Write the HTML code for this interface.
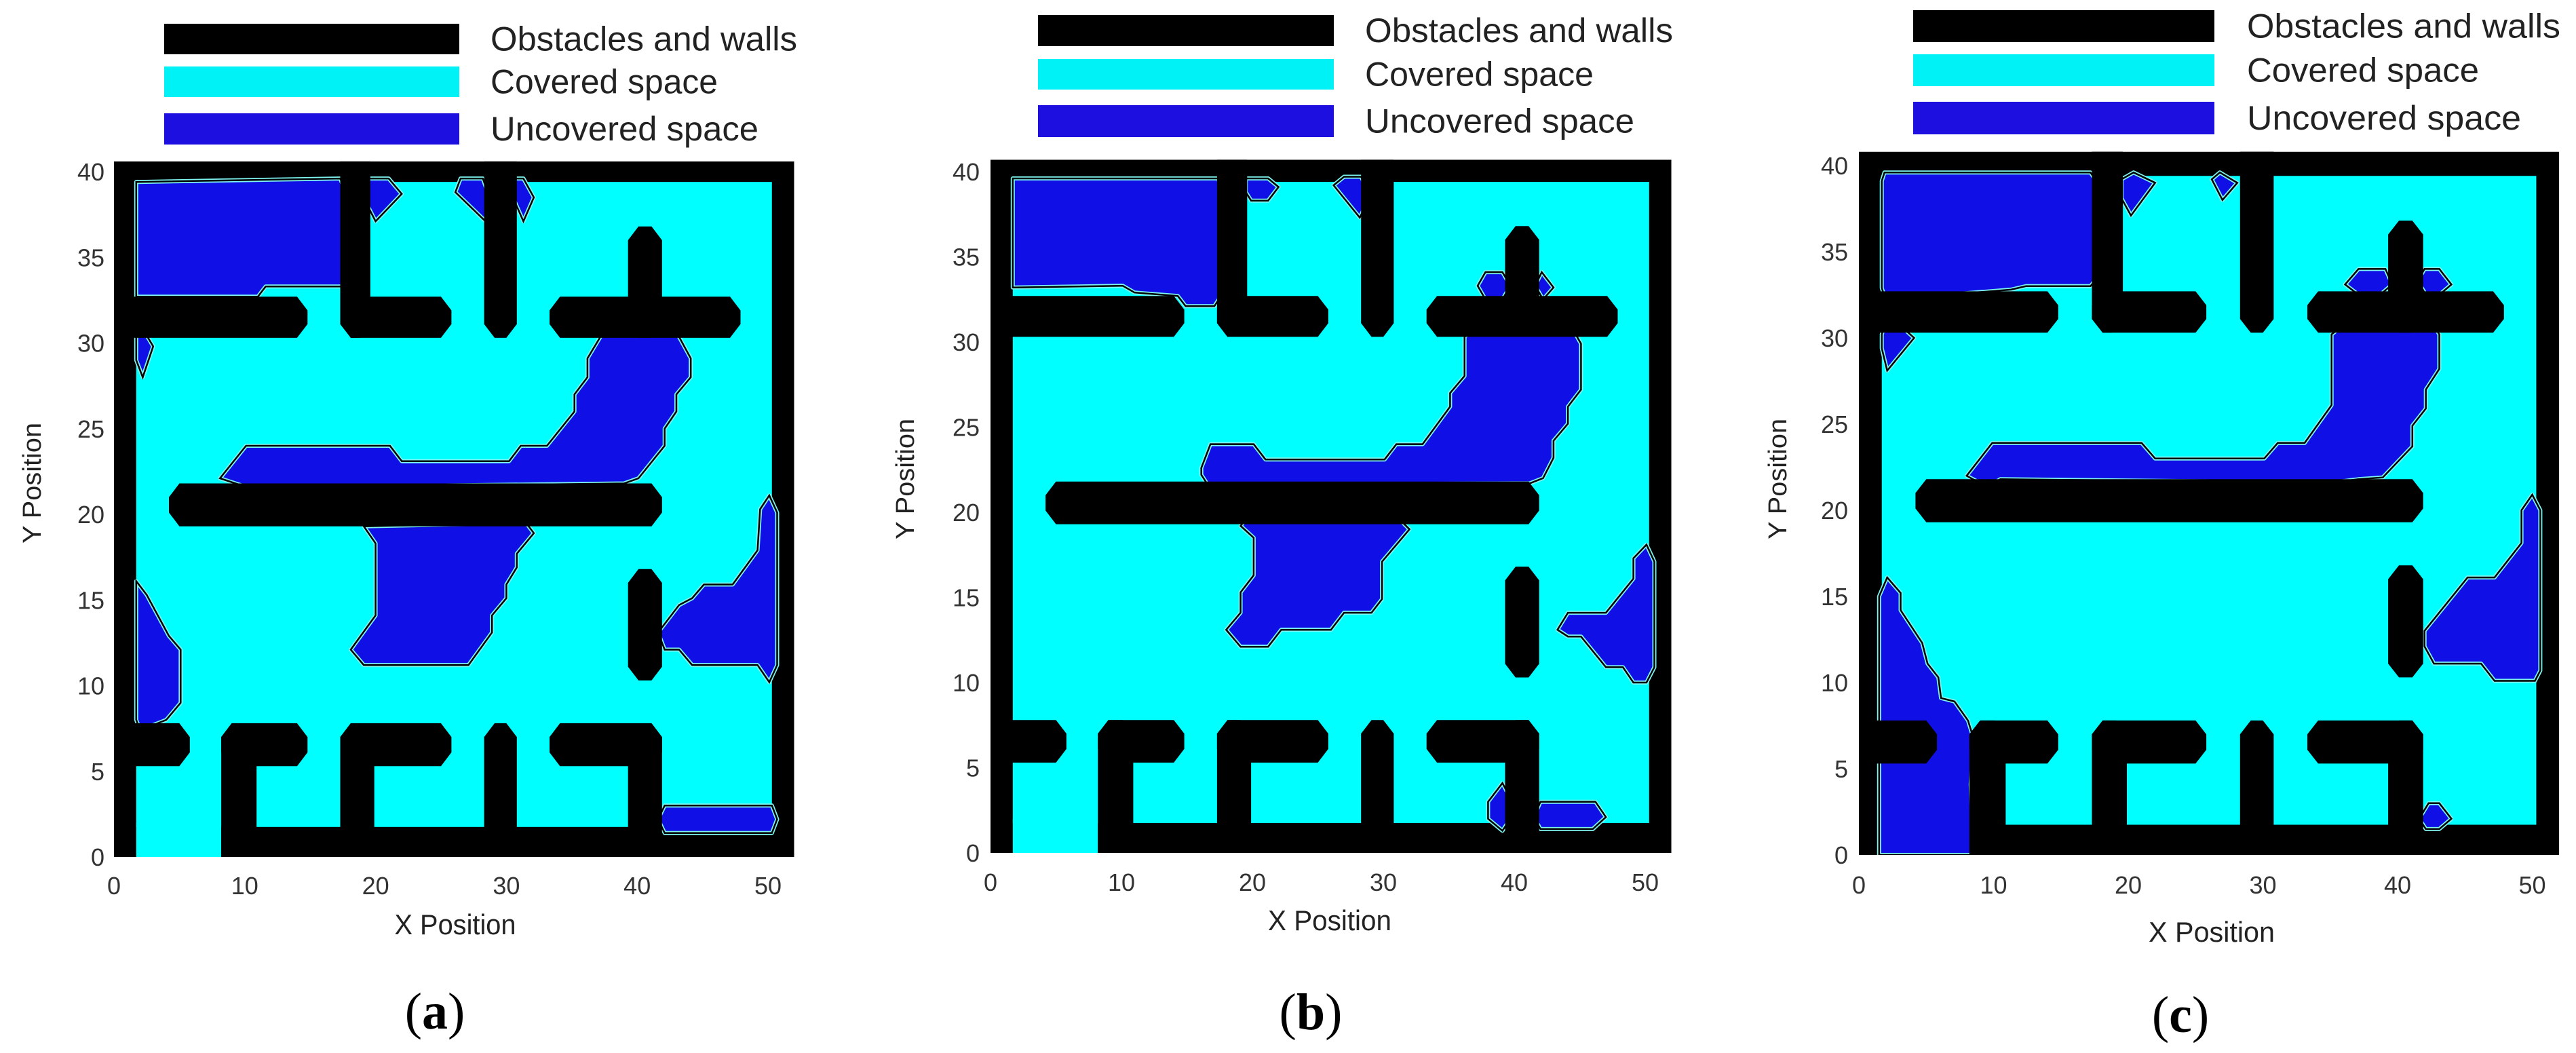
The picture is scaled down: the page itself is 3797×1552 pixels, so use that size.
<!DOCTYPE html>
<html><head><meta charset="utf-8"><style>
html,body{margin:0;padding:0;background:#fff;}
svg{display:block;}
text{font-family:"Liberation Sans",sans-serif;}
</style></head><body>
<svg id="fig" xmlns="http://www.w3.org/2000/svg" width="3797" height="1552" viewBox="0 0 3797 1552"></svg>
<script>
// ---- data (map coordinates in units) ----
const xTicks = [0,10,20,30,40,50];
const yTicks = [0,5,10,15,20,25,30,35,40];
const legendLabels = ["Obstacles and walls","Covered space","Uncovered space"];
const obstacleBars = [
 [0,30.3,14.8,32.7],[17.3,30.3,19.6,42],[17.3,30.3,25.8,32.7],[28.3,30.3,30.8,42],
 [33.3,30.3,47.9,32.7],[39.3,30.3,41.9,36.8],[4.2,19.3,41.9,21.8],[39.3,10.3,41.9,16.8],
 [0,5.3,5.8,7.8],[8.2,-1,10.9,7.8],[8.2,5.3,14.8,7.8],[17.3,-1,19.9,7.8],[17.3,5.3,25.8,7.8],
 [28.3,-1,30.8,7.8],[33.3,5.3,41.9,7.8],[39.3,-1,41.9,7.8]
];
const uncoveredA = [
 [[1.7,39.4],[17.3,39.6],[17.6,39],[17.6,33.3],[11.6,33.3],[11,32.7],[1.7,32.7]],
 [[19.4,39.6],[21,39.6],[22,38.7],[20,37.1],[19.4,38]],
 [[26.5,39.6],[28.2,39.6],[28.7,38.5],[28.4,37.1],[26.1,38.8]],
 [[30.5,39.6],[31.3,39.6],[32.1,38.5],[31.3,37.1],[30.5,38.5]],
 [[1.7,30.5],[2.3,30.7],[3,29.8],[2.2,28],[1.7,29]],
 [[8.1,22.1],[10.1,24],[21.1,24],[22,23.1],[30.2,23.1],[31.1,24],[33.1,24],[35.2,26],[35.2,27],[36.2,28],[36.2,29.1],[37.3,30.5],[43.1,30.5],[44.1,29.1],[44.1,28],[43,27],[43,26],[42.1,25],[42.1,24],[40.1,22.1],[39,21.8],[16,21.6],[10.5,21.5]],
 [[19.1,19.3],[31.5,19.5],[32.1,18.9],[30.8,17.7],[30.8,16.9],[30,15.9],[30,15.1],[28.9,14.1],[28.9,13.1],[27.1,11.2],[19.1,11.2],[18.1,12.1],[20,14.1],[20,18.3]],
 [[1.7,16.1],[2.5,15.3],[4.2,12.9],[5.1,12.1],[5.1,9],[4,8],[2,7.4],[1.7,8]],
 [[41.6,13.1],[43.2,14.7],[44.2,15.1],[45.1,15.9],[47.3,15.9],[49.2,17.9],[49.4,20.3],[50.1,21.1],[50.7,20.1],[50.7,11.2],[50.1,10.2],[49.2,11.2],[44.2,11.2],[43.2,12.1],[42.1,12.1]],
 [[42.1,3],[50.3,3],[50.7,2.2],[50.3,1.4],[42.1,1.4],[41.6,2.2]]
];
const uncoveredB = [
 [[1.7,39.6],[17.4,39.6],[17.6,39],[17.6,32.7],[17.1,32.1],[14.9,32.1],[14.3,32.7],[11,32.9],[10.1,33.3],[1.7,33.2]],
 [[19.5,39.6],[21.2,39.6],[22,39.1],[21.2,38.3],[19.9,38.3],[19.5,38.8]],
 [[26.2,39.2],[27,39.7],[28.3,39.7],[28.7,39.1],[28.7,38.1],[28.2,37.3]],
 [[37.2,33.3],[37.8,34.1],[39.1,34.1],[39.7,33.3],[39.1,32.5],[37.8,32.5]],
 [[41.6,33.3],[42.1,34.1],[43,33.2],[42.2,32.5]],
 [[16.1,22.6],[16.8,24],[20.1,24],[21,23.1],[30.1,23.1],[31,24],[33,24],[35.1,26.2],[35.1,27],[36.2,28],[36.2,30.3],[36.8,30.7],[44.5,30.7],[45.1,29.9],[45.1,27.2],[44.1,26.2],[44.1,25.2],[43,24.2],[43,23.2],[42.2,22],[41.2,21.7],[16.6,21.6],[16.1,22.2]],
 [[19.1,19.2],[19.5,19.6],[31.2,19.6],[32,19],[29.9,17.1],[29.9,14.9],[29.1,14.1],[27,14.1],[26,13.1],[22.2,13.1],[21.2,12.1],[19.1,12.1],[18,13.1],[19.1,14.1],[19.1,15.3],[20.1,16.3],[20.1,18.5]],
 [[43.3,13.1],[44.1,14.1],[47,14.1],[49.1,16.1],[49.1,17.3],[50.1,18.1],[50.7,17.1],[50.7,10.9],[50.1,10],[49.1,10],[48.3,10.9],[47,10.9],[45.1,12.7],[44.1,12.7]],
 [[38,3],[39.1,4.1],[39.7,3.2],[39.7,2],[39.1,1.3],[38,2]],
 [[42,3],[46.2,3],[47,2.1],[46,1.4],[42,1.4],[41.5,2.1]]
];
const uncoveredC = [
 [[1.9,39.6],[17.2,39.6],[17.7,39],[17.7,33.5],[17.2,33],[12.4,33],[11.3,32.8],[6.5,32.5],[1.9,32.4],[1.7,32.9],[1.7,39.1]],
 [[19.5,39.2],[20.4,39.6],[22,39],[20.2,37.1],[19.5,38.1]],
 [[26.2,39.2],[26.8,39.6],[28.1,39],[27,38]],
 [[36.1,33.1],[37.1,34],[39.1,34],[39.6,33.1],[38.7,32.5],[37.1,32.5]],
 [[41.5,33.3],[42,34],[43.1,34],[44,33.1],[43.1,32.5],[42.1,32.5]],
 [[1.7,30.2],[1.9,30.7],[3.1,30.7],[4.1,30],[2.1,28.1],[1.7,29.4]],
 [[8,22],[9.9,23.9],[21,23.9],[22,23],[30.1,23],[31.1,23.9],[33.1,23.9],[35.1,26.1],[35.1,30.2],[35.9,30.7],[42.7,30.7],[43.1,30.2],[43.1,28.2],[42.1,27],[42.1,25.9],[41.1,24.9],[41.1,23.7],[38.9,21.9],[37.1,21.8],[35.1,21.6],[10.5,21.8],[9.9,21.5],[8.7,21.7]],
 [[1.5,0],[1.5,15],[2.1,16.1],[3.1,15.2],[3.1,14.2],[4.7,12.3],[5.1,11.1],[5.9,10.3],[6.1,9.1],[7.1,8.9],[8.1,7.8],[8.5,6.8],[8.3,4.1],[8.5,0]],
 [[42,13],[45.2,16.1],[47.2,16.1],[49.2,18.1],[49.2,20],[50,20.9],[50.6,20],[50.6,10.7],[50.2,10.1],[47.2,10.1],[46.2,11.1],[42.7,11.1],[42,12.1]],
 [[41.6,2.1],[42.3,3],[43.1,3],[44,2.1],[43.1,1.5],[42.1,1.5]]
];
const panelRegions = [uncoveredA, uncoveredB, uncoveredC];
const panelCaptions = ["a","b","c"];
</script>
<script>
const NS="http://www.w3.org/2000/svg";
const svg=document.getElementById('fig');
const layouts=[
 {ox:168,oy:1263,kx:19.28,ky:25.25,ymax:40.6,bx0:242,bx1:677,rows:[[35,80],[98,143],[167,213]],tx:723,tw:[452,335,395],yr:154,xty:1305,xt:[671,1362],xtw:179,yt:[47,712],cap:[641,1490]},
 {ox:1460,oy:1257,kx:19.3,ky:25.1,ymax:40.7,bx0:1530,bx1:1966,rows:[[22,68],[87,132],[155,202]],tx:2012,tw:[454,337,397],yr:1444,xty:1300,xt:[1960,1356],xtw:182,yt:[1334,706],cap:[1932,1491]},
 {ox:2740,oy:1260,kx:19.85,ky:25.4,ymax:40.8,bx0:2820,bx1:3264,rows:[[15,62],[80,127],[150,198]],tx:3312,tw:[462,342,404],yr:2724,xty:1304,xt:[3260,1373],xtw:186,yt:[2620,706],cap:[3214,1495]}
];
const fills=["#000000","#00f2f6","#1d0fe0"];
function mk(tag,attrs,parent){const e=document.createElementNS(NS,tag);for(const k in attrs)e.setAttribute(k,attrs[k]);(parent||svg).appendChild(e);return e;}
function chamfer(b,c){const [x0,y0,x1,y1]=b;return [[x0+c,y0],[x1-c,y0],[x1,y0+c],[x1,y1-c],[x1-c,y1],[x0+c,y1],[x0,y1-c],[x0,y0+c]];}

layouts.forEach((L,pi)=>{
 const X=v=>L.ox+v*L.kx, Y=v=>L.oy-v*L.ky;
 const pts=arr=>arr.map(p=>X(p[0]).toFixed(1)+","+Y(p[1]).toFixed(1)).join(" ");
 const g=mk('g',{});
 
 
 legendLabels.forEach((lab,i)=>{
  const r=mk('rect',{x:L.bx0,y:L.rows[i][0],width:L.bx1-L.bx0,height:L.rows[i][1]-L.rows[i][0],fill:fills[i]},g);
  
  
  const t=mk('text',{x:L.tx,y:(L.rows[i][0]+L.rows[i][1])/2+17,'font-size':50,fill:'#222',textLength:L.tw[i],lengthAdjust:'spacingAndGlyphs'},g);
  t.textContent=lab;
  
  
 });
 const cid='clip'+pi;
 const cp=mk('clipPath',{id:cid},g);
 mk('rect',{x:X(0),y:Y(L.ymax),width:X(52)-X(0),height:Y(0)-Y(L.ymax)},cp);
 const plot=mk('g',{'clip-path':'url(#'+cid+')'},g);
 
 
 mk('rect',{x:X(0),y:Y(L.ymax),width:X(52)-X(0),height:Y(0)-Y(L.ymax),fill:'#000'},plot);
 mk('rect',{x:X(1.7),y:Y(39.4),width:X(50.3)-X(1.7),height:Y(1.75)-Y(39.4),fill:'#00ffff'},plot);
 mk('rect',{x:X(1.7),y:Y(2),width:X(8.2)-X(1.7),height:Y(0)-Y(2),fill:'#00ffff'},plot);
 panelRegions[pi].forEach((poly,j)=>{
  const p=mk('polygon',{points:pts(poly),fill:'#1010e6',stroke:'#7ff5f0','stroke-width':6,'stroke-linejoin':'round'},plot);
  
  
  mk('polygon',{points:pts(poly),fill:'none',stroke:'#000','stroke-width':2.5},plot);
 });
 obstacleBars.forEach((b,j)=>{
  const p=mk('polygon',{points:pts(chamfer(b,0.8)),fill:'#000'},plot);
  
  
 });
 xTicks.forEach(v=>{
  const t=mk('text',{x:X(v),y:L.xty+13,'font-size':36,fill:'#333','text-anchor':'middle'},g);
  t.textContent=v;
  
  
 });
 yTicks.forEach(v=>{
  const t=mk('text',{x:L.yr,y:Y(v)+13,'font-size':36,fill:'#333','text-anchor':'end'},g);
  t.textContent=v;
  
  
 });
 const xt=mk('text',{x:L.xt[0],y:L.xt[1]+15,'font-size':42,fill:'#222','text-anchor':'middle',textLength:L.xtw,lengthAdjust:'spacingAndGlyphs'},g);
 xt.textContent='X Position';
 
 
 const yt=mk('text',{x:0,y:0,'font-size':38,fill:'#222','text-anchor':'middle',textLength:178,lengthAdjust:'spacingAndGlyphs',transform:'translate('+(L.yt[0]+13)+','+L.yt[1]+') rotate(-90)'},g);
 yt.textContent='Y Position';
 
 
 const cap=mk('text',{x:L.cap[0],y:L.cap[1]+26,'font-size':76,fill:'#000','text-anchor':'middle',style:'font-family:"Liberation Serif",serif'},g);
 cap.innerHTML='(<tspan font-weight="bold">'+panelCaptions[pi]+'</tspan>)';
 
 
});
</script>
</body></html>
